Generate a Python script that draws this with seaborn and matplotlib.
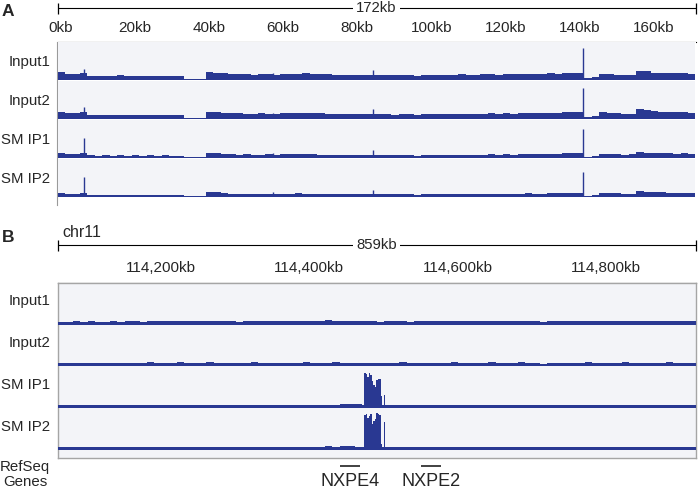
import numpy as np
import pandas as pd
import matplotlib
matplotlib.use('Agg')
import matplotlib.pyplot as plt
import seaborn as sns

# ---- Panel A: 172kb window, coverage in 2kb bins ----
a_start, a_end, a_bin = 0, 172, 2
a_names = ['Input1', 'Input2', 'SM IP1', 'SM IP2']
a_input1 = [8.5, 6.5, 6, 7,
            4.5, 4, 4.5, 4, 5, 4, 4.5, 4, 4, 4.5, 4, 4.5, 4,
            1.5, 1.5, 1.5,
            8, 7.5, 7,
            6.5, 6, 6, 5.5, 6, 6, 5.5,
            6, 6.5, 6.5, 7, 6.5, 6, 6, 5, 5, 5.5,
            5.5, 5, 5.5, 5, 5, 5, 5.5, 5, 4, 5.5,
            5.5, 5.5, 5, 5.5, 6, 5.5, 5.5, 6, 6, 5.5, 6, 6, 6, 6.5, 6, 6.5, 7, 6.5, 7, 7.5,
            7,
            2.5, 3,
            6.5, 6, 5.5, 5, 5.5,
            9.5, 9, 7.5, 7, 7, 7, 7.5, 6]
a_input2 = [7.5, 6, 6, 7,
            4, 4.5, 4, 4, 4.5, 4, 4, 4.5, 4, 4, 4.5, 4, 4,
            1.5, 1.5, 1.5,
            7.5, 7, 6.5,
            6, 6, 5.5, 5.5, 6, 5.5, 5.5,
            6, 6, 6.5, 6.5, 6.5, 6, 5.5, 5, 5, 5,
            5, 5, 5.5, 5, 5, 4.5, 5, 5, 4, 5,
            5, 5, 5, 5.5, 5.5, 5.5, 5, 5.5, 6, 5.5, 6, 5.5, 6, 6.5, 6, 6, 6.5, 6.5, 7, 7.5,
            7,
            2.5, 3,
            7, 6.5, 6, 5.5, 5.5,
            10, 9.5, 8, 7.5, 7, 7, 7, 6]
a_smip1 = [5, 4.5, 4, 5,
           3, 2.5, 3, 2.5, 3, 2.5, 3, 2.5, 3, 2.5, 3, 2.5, 2.5,
           1.5, 1.5, 1.5,
           5.5, 5, 4.5,
           4, 3.5, 4, 3.5, 3.5, 4, 3.5,
           4, 4, 4.5, 4, 4, 3.5, 3.5, 3.5, 3, 3.5,
           3.5, 3, 3.5, 3.5, 3, 3, 3.5, 3, 2.5, 3,
           3, 3.5, 3, 3.5, 3.5, 3, 3.5, 3.5, 4, 3.5, 4, 3.5, 4, 4.5, 4, 4, 4.5, 4.5, 5, 5,
           5,
           1.5, 2,
           4.5, 4, 4, 3.5, 4,
           6.5, 5.5, 5, 5, 5, 4.5, 5, 4]
a_smip2 = [4, 3.5, 3.5, 4.5,
           2.5, 2, 2.5, 2, 2.5, 2, 2.5, 2, 2.5, 2, 2.5, 2, 2,
           1.5, 1.5, 1.5,
           5.5, 5, 4.5,
           3.5, 3.5, 3.5, 3, 3.5, 3.5, 3,
           3.5, 3.5, 4, 3.5, 3.5, 3.5, 3, 3, 3, 3,
           3, 3, 3, 3.5, 3, 3, 3, 3, 2.5, 3,
           3, 3, 3, 3, 3.5, 3, 3, 3.5, 3.5, 3, 3.5, 3.5, 3.5, 4, 3.5, 3.5, 4, 4, 4.5, 4.5,
           4.5,
           1.5, 2,
           4.5, 4, 4, 3.5, 3.5,
           6, 5.5, 5, 5, 4.5, 4.5, 4.5, 4]
# narrow spikes (kb position, height per track)
a_spike_pos = [7.2, 58.0, 85.0, 141.7]
a_spike_input1 = [11.5, 7, 10, 32]
a_spike_input2 = [12, 6, 10, 31]
a_spike_smip1 = [20, 5, 8, 29]
a_spike_smip2 = [20, 5, 7, 25]
a_ticks = list(range(0, 171, 10)) + [172]
a_label_pos = [0, 20, 40, 60, 80, 100, 120, 140, 160]
a_labels = ['0kb', '20kb', '40kb', '60kb', '80kb', '100kb', '120kb', '140kb', '160kb']

# ---- Panel B: chr11, 859kb window, coverage in 10kb bins ----
b_start, b_end, b_bin = 114061, 114920, 10
b_input1 = [2.5, 2.5, 3, 2.5, 3, 2.5, 2.5, 3, 2.5, 3,
            3, 2.5, 3, 3, 3.5, 3, 3, 3.5, 3, 3,
            3, 3, 3.5, 3, 2.5, 3, 3, 3.5, 3, 3,
            3, 3, 3.5, 3, 3, 3.5, 4.5, 3, 3, 3,
            3, 3, 3, 2.5, 3, 3, 3, 2.5, 3, 3,
            3, 3.5, 3, 3, 3, 3.5, 3, 3, 3, 3,
            3, 3, 3, 3, 3, 2, 3, 3, 3.5, 3,
            3, 3, 3, 3.5, 3, 3, 3, 3, 3.5, 3,
            3, 3, 3, 3, 3, 3]
b_input2 = [2.5, 3, 2.5, 2.5, 3, 3, 2.5, 3, 3, 2.5,
            3, 3, 3.5, 3, 3, 3, 3.5, 3, 3, 3,
            3.5, 3, 3, 3, 3, 3, 3.5, 3, 3, 3,
            3, 3, 3, 3.5, 3, 3, 3, 3.5, 3, 3,
            3, 3, 3, 3, 3, 3, 3.5, 3, 3, 3,
            3, 3, 3, 3.5, 3, 3, 3, 3, 3.5, 3,
            3, 3, 3.5, 3, 3, 2, 3, 3, 3, 3,
            3, 3.5, 3, 3, 3, 3, 3.5, 3, 3, 3,
            3, 3, 3.5, 3, 3, 3]
b_smip1 = [2.5, 2.5, 3, 2.5, 2.5, 3, 2.5, 2.5, 3, 2.5,
           3, 2.5, 3, 3, 2.5, 3, 3, 3, 2.5, 3,
           3, 3, 2.5, 3, 3, 3, 3, 2.5, 3, 3,
           3, 3, 3, 3, 3, 3, 3, 3, 3.5, 4,
           3.5, 3, 3, 3, 3, 3, 3, 2.5, 3, 3,
           3, 3, 3, 3, 3, 3, 3, 3, 3, 3,
           3, 3, 3, 3, 3, 3, 3, 3, 3, 3,
           3, 3, 3, 3, 3, 3, 3, 3, 3, 3,
           3, 3, 3, 3, 3, 3]
b_smip2 = [2.5, 3, 2.5, 2.5, 3, 2.5, 3, 2.5, 2.5, 3,
           3, 3, 2.5, 3, 3, 3, 3, 3, 3, 3,
           3, 3, 3, 3, 3, 3, 3, 3, 3, 3,
           3, 3, 3, 3, 3, 3, 3.5, 3, 3.5, 3.5,
           3, 3, 3, 3, 3, 3, 3, 3, 3, 3,
           3, 3, 3, 3, 3, 3, 3, 3, 3, 3,
           3, 3, 3, 3, 3, 3, 3, 3, 3, 3,
           3, 3, 3, 3, 3, 3, 3, 3, 3, 3,
           3, 3, 3, 3, 3, 3]
# enrichment peak near NXPE4, 2kb bins starting at 114474kb
b_peak_start, b_peak_bin = 114474, 2
b_peak_smip1 = [34, 33, 30, 34, 32, 26, 22, 20, 27, 28, 28, 12, 3, 13, 3]
b_peak_smip2 = [34, 35, 31, 33, 35, 25, 28, 30, 36, 35, 34, 6, 3, 27, 3]
b_ticks = [114061] + list(range(114100, 114901, 50)) + [114920]
b_label_pos = [114200, 114400, 114600, 114800]
b_labels = ['114,200kb', '114,400kb', '114,600kb', '114,800kb']
gene_names = ['NXPE4', 'NXPE2']
gene_start = [114442, 114550]
gene_end = [114468, 114577]

W, H = 700, 492
FILL = '#293892'
BG = '#f3f4f8'

sns.set_style('white')
plt.rcParams['font.family'] = ['Liberation Sans', 'DejaVu Sans']

fig = plt.figure(figsize=(W / 100, H / 100), dpi=100)


def box(x0, y0, x1, y1):
    return [x0 / W, 1 - y1 / H, (x1 - x0) / W, (y1 - y0) / H]


def ftext(x, y, s, **kw):
    fig.text(x / W, 1 - y / H, s, va='center', **kw)


def clean(ax):
    ax.set_xticks([])
    ax.set_yticks([])
    ax.set_xlabel('')
    ax.set_ylabel('')
    for sp in ax.spines.values():
        sp.set_visible(False)


def coverage(ax, start, step, vals):
    edges = start + step * np.arange(len(vals) + 1)
    df = pd.DataFrame({'pos': (edges[:-1] + edges[1:]) / 2, 'cov': vals})
    sns.histplot(data=df, x='pos', weights='cov', bins=edges.tolist(),
                 element='step', fill=True, color=FILL, alpha=1, linewidth=0, ax=ax)


def ruler(y0, y1, lo, hi, ticks, label_pos, labels, span_y, span_txt, label_y, dx):
    ax = fig.add_axes(box(57.5, y0, 695.5, y1))
    ax.set_xlim(lo, hi)
    ax.set_ylim(y1 - y0, 0)
    ax.patch.set_alpha(0)
    for k, sp in ax.spines.items():
        sp.set_visible(k == 'bottom')
    ax.spines['bottom'].set_linewidth(0.8)
    ax.spines['bottom'].set_color('black')
    ax.set_xticks(ticks)
    ax.set_yticks([])
    ax.tick_params(axis='x', direction='in', length=4.5, width=0.8, color='black',
                   labelbottom=False)
    ax.plot([lo, hi], [span_y, span_y], color='black', lw=0.8, clip_on=False)
    ax.vlines([lo, hi], span_y - 5, span_y + 5.5, color='black', lw=0.9, clip_on=False)
    ax.text((lo + hi) / 2, span_y, span_txt, ha='center', va='center', fontsize=10.7,
            bbox=dict(boxstyle='square,pad=0.2', fc='white', ec='none'))
    for p, s in zip(label_pos, labels):
        ax.annotate(s, (p, label_y), xytext=(dx, 0), textcoords='offset pixels',
                    ha='center', va='center', fontsize=11)
    return ax


# ---------------- Panel A ----------------
ftext(2, 12, 'A', fontsize=12.5, fontweight='bold')
ruler(0, 41.5, a_start, a_end, a_ticks, a_label_pos, a_labels, 8, '172kb', 27.5, 3)

frame_a = fig.add_axes(box(57, 41.5, 696, 205))
clean(frame_a)
frame_a.spines['left'].set_visible(True)
frame_a.spines['left'].set_color('#9a9a9a')

a_vals = [a_input1, a_input2, a_smip1, a_smip2]
a_spk = [a_spike_input1, a_spike_input2, a_spike_smip1, a_spike_smip2]
for i, top in enumerate([42, 81, 120, 159]):
    ax = fig.add_axes(box(57.7, top, 695.5, top + 38))
    ax.set_facecolor(BG)
    coverage(ax, a_start, a_bin, a_vals[i])
    ax.vlines(a_spike_pos, 0, a_spk[i], color=FILL, lw=1.0)
    ax.set_xlim(a_start, a_end)
    ax.set_ylim(0, 38)
    clean(ax)
    ftext(50, top + 20, a_names[i], ha='right', fontsize=10.8)

# ---------------- Panel B ----------------
ftext(2, 238, 'B', fontsize=12.5, fontweight='bold')
rb = ruler(222, 282.5, b_start, b_end, b_ticks, b_label_pos, b_labels, 23, '859kb', 45.5, 0)
rb.annotate('chr11', (b_start, 10), xytext=(5, 0), textcoords='offset pixels',
            ha='left', va='center', fontsize=11.5)

frame_b = fig.add_axes(box(57.5, 283, 695.5, 458))
frame_b.set_facecolor(BG)
clean(frame_b)
for sp in frame_b.spines.values():
    sp.set_visible(True)
    sp.set_color('#a5a5a5')
    sp.set_linewidth(1)

b_vals = [b_input1, b_input2, b_smip1, b_smip2]
b_peaks = [None, None, b_peak_smip1, b_peak_smip2]
for i, top in enumerate([283.5, 325, 367, 409]):
    ax = fig.add_axes(box(58, top, 695, top + 41))
    ax.patch.set_alpha(0)
    coverage(ax, b_start, b_bin, b_vals[i])
    if b_peaks[i] is not None:
        coverage(ax, b_peak_start, b_peak_bin, b_peaks[i])
    ax.set_xlim(b_start, b_end)
    ax.set_ylim(0, 40)
    clean(ax)
    ftext(50, top + 18, a_names[i], ha='right', fontsize=10.8)

# gene track
gax = fig.add_axes(box(57.5, 458, 695.5, 492))
gax.set_xlim(b_start, b_end)
gax.set_ylim(34, 0)
clean(gax)
gax.patch.set_alpha(0)
gax.hlines([8] * len(gene_names), gene_start, gene_end, color='#333333', lw=1.3)
for s, e, n in zip(gene_start, gene_end, gene_names):
    gax.text((s + e) / 2, 24, n, ha='center', va='center', fontsize=13)
ftext(25, 467, 'RefSeq', ha='center', fontsize=10.8)
ftext(25, 482, 'Genes', ha='center', fontsize=10.8)

fig.savefig('out.png', dpi=100)
